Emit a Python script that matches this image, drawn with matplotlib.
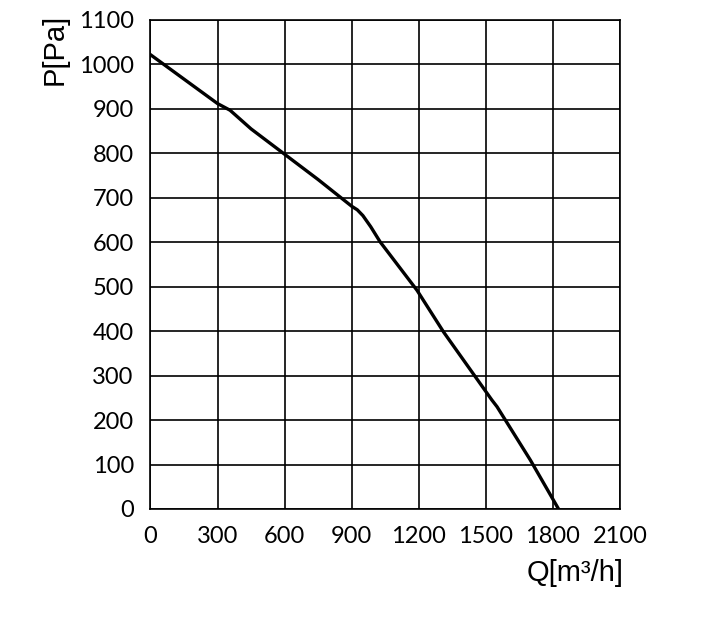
import matplotlib
matplotlib.use("Agg")
from matplotlib import pyplot as plt

plt.rcParams['font.family'] = ['Lato', 'DejaVu Sans']

# curve
q = [0, 300, 356, 450, 600, 750, 900, 925, 950, 985, 1027, 1192, 1311, 1527, 1550, 1699, 1825]
p = [1022, 912, 897, 855, 798, 741, 681, 673, 660, 635, 601, 492, 398, 245, 230, 110, 0]

x_ticks = [0, 300, 600, 900, 1200, 1500, 1800, 2100]
y_ticks = [0, 100, 200, 300, 400, 500, 600, 700, 800, 900, 1000, 1100]

fig = plt.figure(figsize=(7.13, 6.21), dpi=100)
ax = fig.add_axes([0.211, 0.1804, 0.6586, 0.7874])

ax.plot(q, p, color="black", lw=2.4, solid_joinstyle="round")

ax.set_xlim(0, 2100)
ax.set_ylim(0, 1100)
ax.set_xticks(x_ticks)
ax.set_yticks(y_ticks)
ax.grid(True, color="black", lw=1.2)
ax.set_axisbelow(True)
for s in ax.spines.values():
    s.set_color("black")
    s.set_linewidth(1.2)
ax.tick_params(length=0, labelsize=17, colors="black")
ax.tick_params(axis="y", pad=12)
ax.tick_params(axis="x", pad=12)

fig.text(0.874, 0.077, "Q[m³/h]", ha="right", va="center", fontsize=21,
         family=["Liberation Sans", "DejaVu Sans"])
fig.text(0.077, 0.921, "P[Pa]", ha="center", va="center", fontsize=21, rotation=90,
         family=["Liberation Sans", "DejaVu Sans"])

fig.savefig("out.png", dpi=100)
